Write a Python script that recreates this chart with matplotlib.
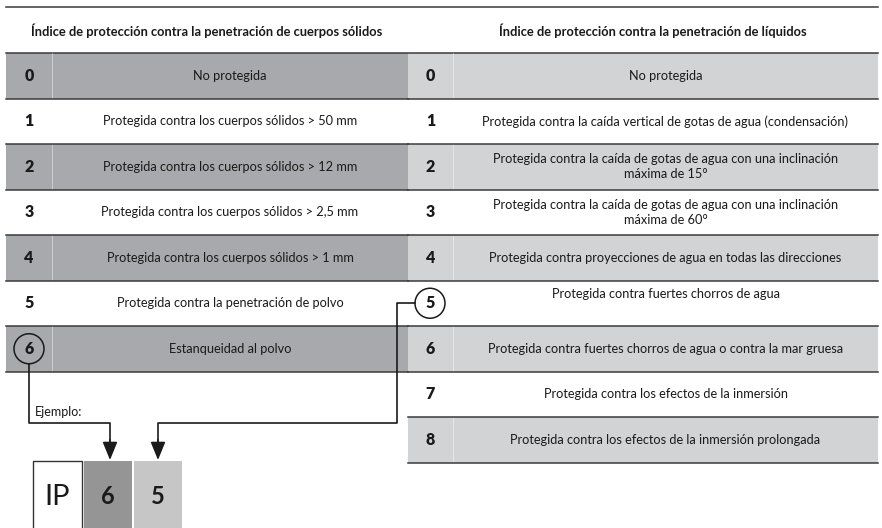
import matplotlib
matplotlib.use("Agg")
import matplotlib.pyplot as plt
from matplotlib.patches import Rectangle, Circle

plt.rcParams['font.family'] = ['Lato', 'DejaVu Sans']

# datos de las dos tablas
solid_title = "Índice de protección contra la penetración de cuerpos sólidos"
liquid_title = "Índice de protección contra la penetración de líquidos"

solid_codes = ["0", "1", "2", "3", "4", "5", "6"]
solid_desc = [
    "No protegida",
    "Protegida contra los cuerpos sólidos > 50 mm",
    "Protegida contra los cuerpos sólidos > 12 mm",
    "Protegida contra los cuerpos sólidos > 2,5 mm",
    "Protegida contra los cuerpos sólidos > 1 mm",
    "Protegida contra la penetración de polvo",
    "Estanqueidad al polvo",
]

liquid_codes = ["0", "1", "2", "3", "4", "5", "6", "7", "8"]
liquid_desc = [
    "No protegida",
    "Protegida contra la caída vertical de gotas de agua (condensación)",
    "Protegida contra la caída de gotas de agua con una inclinación\nmáxima de 15°",
    "Protegida contra la caída de gotas de agua con una inclinación\nmáxima de 60°",
    "Protegida contra proyecciones de agua en todas las direcciones",
    "Protegida contra fuertes chorros de agua",
    "Protegida contra fuertes chorros de agua o contra la mar gruesa",
    "Protegida contra los efectos de la inmersión",
    "Protegida contra los efectos de la inmersión prolongada",
]

example_label = "Ejemplo:"
example_codes = ["IP", "6", "5"]
selected_solid = 6
selected_liquid = 5

TOP = 53
ROW_H = 45.5
LINE_C = "#3a3a3a"


def draw_table(ax, x0, x1, xsep, codes, desc, fill, skip_center=None):
    for i, (c, d) in enumerate(zip(codes, desc)):
        y = TOP + i * ROW_H
        if i % 2 == 0:
            ax.add_patch(Rectangle((x0, y), x1 - x0, ROW_H, facecolor=fill,
                                   edgecolor="none", zorder=1))
        ax.plot([xsep, xsep], [y, y + ROW_H], color="white", lw=0.6,
                alpha=0.5, zorder=2)
        ax.plot([x0, x1], [y + ROW_H, y + ROW_H], color=LINE_C, lw=1.1, zorder=3)
        yc = y + ROW_H / 2
        if skip_center is not None and i == skip_center:
            yt = y + 14
        else:
            yt = yc
        ax.text((x0 + xsep) / 2, yc, c, ha="center", va="center",
                fontsize=11.5, fontweight="heavy", color="#1a1a1a", zorder=7)
        ax.text((xsep + x1) / 2, yt, d, ha="center", va="center",
                fontsize=9.2, color="#1a1a1a", linespacing=1.3, zorder=7)


def main():
    fig = plt.figure(figsize=(8.82, 5.28), dpi=100)
    ax = fig.add_axes([0, 0, 1, 1])
    ax.set_xlim(0, 882)
    ax.set_ylim(528, 0)
    ax.axis("off")

    # lineas de cabecera
    ax.plot([6, 878], [7, 7], color=LINE_C, lw=1.1)
    ax.plot([6, 878], [TOP, TOP], color=LINE_C, lw=1.1)
    ax.text(207, 31, solid_title, ha="center", va="center", fontsize=9.3,
            fontweight="bold", color="#1a1a1a")
    ax.text(653, 31, liquid_title, ha="center", va="center", fontsize=9.3,
            fontweight="bold", color="#1a1a1a")

    draw_table(ax, 6, 408, 52, solid_codes, solid_desc, "#a7a9ac")
    draw_table(ax, 408, 878, 453, liquid_codes, liquid_desc, "#d1d3d4",
               skip_center=selected_liquid)

    # circulos de seleccion
    y6 = TOP + selected_solid * ROW_H + ROW_H / 2
    y5 = TOP + selected_liquid * ROW_H + ROW_H / 2
    r = 15
    ax.add_patch(Circle((29, y6), r, facecolor="none", edgecolor="#1a1a1a",
                        lw=1.1, zorder=5))
    ax.add_patch(Circle((430, y5), r, facecolor="white", edgecolor="#1a1a1a",
                        lw=1.1, zorder=5))

    # conectores hacia el ejemplo
    ax.plot([29, 29, 110, 110], [y6 + r, 423, 423, 445], color="#1a1a1a",
            lw=1.2, zorder=5)
    ax.plot([430 - r, 397, 397, 158, 158], [y5, y5, 423, 423, 445],
            color="#1a1a1a", lw=1.2, zorder=5)
    for xa in [110, 158]:
        ax.annotate("", xy=(xa, 460), xytext=(xa, 440),
                    arrowprops=dict(arrowstyle="-|>,head_length=1.1,head_width=0.45",
                                    color="#1a1a1a", lw=1.2, shrinkA=0, shrinkB=0),
                    zorder=6)

    ax.text(35, 412, example_label, ha="left", va="center", fontsize=9,
            color="#1a1a1a")

    # cajas IP 6 5
    box_x = [33, 84, 134]
    box_w = [49, 48, 48]
    box_fill = ["white", "#959595", "#c6c6c6"]
    for bx, bw, bf, label in zip(box_x, box_w, box_fill, example_codes):
        ec = "#333333" if bf == "white" else "none"
        ax.add_patch(Rectangle((bx, 461), bw, 80, facecolor=bf, edgecolor=ec,
                               lw=1.0, zorder=2))
        if label == "IP":
            ax.text(bx + bw / 2, 497, label, ha="center", va="center",
                    fontsize=21, color="#1a1a1a")
        else:
            ax.text(bx + bw / 2, 497, label, ha="center", va="center",
                    fontsize=17, fontweight="bold", color="#1a1a1a")

    fig.savefig("out.png", dpi=100)


if __name__ == "__main__":
    main()
